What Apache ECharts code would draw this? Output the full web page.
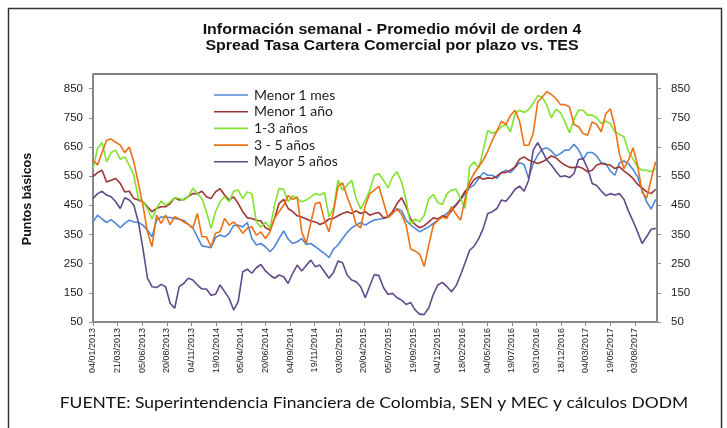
<!DOCTYPE html>
<html>
<head>
<meta charset="utf-8">
<script src="https://cdn.jsdelivr.net/npm/echarts@6/dist/echarts.min.js"></script>
<style>
html, body { margin: 0; padding: 0; background: #fff; }
#chart { width: 727px; height: 428px; }
</style>
</head>
<body>
<div id="chart"></div>
<script>
// fechas: datos cada 14 dias desde 04/01/2013
var startDate = Date.UTC(2013, 0, 4);
var stepDays = 14;

var seriesNames = ['Menor 1 mes', 'Menor 1 año', '1-3 años', '3 - 5 años', 'Mayor 5 años'];
var seriesColors = ['#4f86d6', '#9e3434', '#80e22e', '#ec7014', '#604a8a'];

var menor1mes = [393,416,403,391,401,388,373,388,399,393,391,382,365,342,399,410,410,408,405,402,398,385,
  373,342,311,308,305,339,348,342,354,381,382,376,391,336,314,319,308,291,308,336,362,
  334,319,325,336,316,319,308,296,285,271,300,314,336,357,373,382,391,382,392,400,402,
  405,410,422,439,431,399,382,371,359,368,376,388,399,410,422,439,453,468,490,510,520,
  542,562,553,553,542,562,570,562,579,596,590,542,593,622,642,647,636,619,627,639,640,
  659,640,608,631,631,619,596,593,567,553,596,602,593,573,548,502,462,437,470];

var menor1anio = [548,562,570,530,536,542,525,496,498,473,468,462,445,428,439,445,445,456,476,468,470,480,
  490,490,498,479,473,496,507,485,468,479,456,428,407,405,399,396,373,365,405,456,470,
  439,428,414,410,403,396,393,384,391,403,405,414,422,428,422,431,422,428,416,422,425,
  407,410,428,456,476,445,403,384,373,380,393,407,403,414,411,431,450,473,498,516,538,
  548,539,544,542,550,562,562,570,582,608,616,605,599,593,599,608,619,613,599,588,580,
  579,582,576,565,570,588,593,590,588,576,582,568,556,542,522,510,496,490,505];

var de1a3 = [576,645,665,599,631,639,608,616,588,553,473,462,439,403,439,464,450,462,476,473,468,480,
  508,490,473,428,371,428,462,479,462,498,502,473,496,490,393,375,393,371,450,508,505,
  462,483,473,462,468,479,490,485,494,411,439,536,502,519,536,473,437,468,502,553,558,
  536,510,547,565,530,468,382,403,393,416,473,487,460,453,490,502,505,473,439,582,599,
  578,639,707,696,704,719,727,702,764,776,768,779,799,825,821,793,750,779,768,736,699,
  745,776,776,759,759,750,730,738,730,702,693,685,636,608,582,570,570,565,576];

var de3a5 = [605,588,631,673,677,666,656,631,650,599,525,450,359,308,416,388,416,384,411,403,393,385,
  371,422,342,342,308,354,359,405,382,393,376,354,371,376,348,359,336,359,405,428,450,
  483,470,479,359,319,391,456,460,399,359,428,516,527,479,439,384,373,450,490,502,515,
  462,407,422,437,419,382,300,293,282,240,314,382,399,410,405,445,419,399,473,530,560,
  582,605,636,673,704,738,727,758,776,738,656,656,696,804,821,839,830,816,795,795,787,
  727,719,696,690,736,727,702,764,781,719,627,576,605,647,588,495,475,540,600];

var mayor5 = [473,490,498,485,479,462,439,476,468,450,393,302,200,171,168,179,171,114,97,171,182,200,
  194,177,163,163,142,145,177,154,131,91,120,222,231,217,236,247,225,211,200,211,205,
  182,217,245,225,244,262,239,245,222,200,220,259,253,211,194,188,171,133,174,213,209,
  168,145,148,133,125,110,117,91,76,76,99,145,177,186,171,154,174,211,253,296,310,
  336,371,422,428,439,468,464,483,505,516,498,536,639,665,636,605,588,567,548,551,545,
  559,607,610,576,525,518,499,483,490,485,490,471,430,396,359,319,342,368,371];

var allValues = [menor1mes, menor1anio, de1a3, de3a5, mayor5];

function toPairs(arr) {
  return arr.map(function (v, i) { return [i * stepDays, v]; });
}

function fmtDate(days) {
  var d = new Date(startDate + days * 86400000);
  var dd = ('0' + d.getUTCDate()).slice(-2);
  var mm = ('0' + (d.getUTCMonth() + 1)).slice(-2);
  return dd + '/' + mm + '/' + d.getUTCFullYear();
}

var chart = echarts.init(document.getElementById('chart'));

var axisGray = '#8a8a8a';
var yAxisBase = {
  type: 'value',
  min: 50,
  max: 900,
  interval: 100,
  axisLine: { show: true, lineStyle: { color: axisGray, width: 1.5 } },
  axisTick: { show: true, inside: false, length: 4, lineStyle: { color: axisGray } },
  splitLine: { show: false },
  axisLabel: {
    fontSize: 11.5,
    fontFamily: 'Liberation Sans',
    color: '#222',
    margin: 10,
    showMaxLabel: false
  }
};

var option = {
  animation: false,
  backgroundColor: '#fff',
  grid: {
    left: 93, top: 74, right: 70, bottom: 106,
    show: true, borderColor: '#000', borderWidth: 1
  },
  legend: {
    orient: 'vertical',
    left: 214,
    top: 88,
    padding: 0,
    icon: 'rect',
    itemWidth: 34,
    itemHeight: 1.6,
    itemGap: 2.7,
    data: seriesNames,
    textStyle: { fontFamily: 'Lato', fontSize: 14, lineHeight: 14, color: '#222', padding: [0, 0, 0, 1] }
  },
  xAxis: {
    type: 'value',
    min: 0,
    max: 1740,
    interval: 76,
    axisLine: { show: true, lineStyle: { color: axisGray, width: 1.5 } },
    axisTick: { show: true, inside: false, length: 4, lineStyle: { color: axisGray } },
    splitLine: { show: false },
    axisLabel: {
      rotate: 90,
      fontSize: 9,
      fontFamily: 'Liberation Sans',
      color: '#222',
      margin: 6,
      showMaxLabel: false,
      formatter: function (v) { return fmtDate(v); }
    }
  },
  yAxis: [
    echarts.util.merge({ position: 'left' }, yAxisBase, true),
    echarts.util.merge({ position: 'right', axisLabel: { margin: 14 } }, yAxisBase, false)
  ],
  series: seriesNames.map(function (name, k) {
    return {
      name: name,
      type: 'line',
      yAxisIndex: 0,
      symbol: 'none',
      data: toPairs(allValues[k]),
      lineStyle: { color: seriesColors[k], width: 1.6 },
      itemStyle: { color: seriesColors[k] }
    };
  }),
  graphic: [
    {
      type: 'rect',
      shape: { x: 8.5, y: 8.5, width: 713, height: 440 },
      style: { fill: 'none', stroke: '#333', lineWidth: 1.5 },
      silent: true
    },
    {
      type: 'text',
      x: 392, y: 30,
      scaleX: 1.14,
      style: {
        text: 'Información semanal - Promedio móvil de orden 4',
        font: 'bold 14px "Liberation Sans"',
        fill: '#111',
        align: 'center',
        verticalAlign: 'middle'
      }
    },
    {
      type: 'text',
      x: 392, y: 46,
      scaleX: 1.14,
      style: {
        text: 'Spread Tasa Cartera Comercial por plazo vs. TES',
        font: 'bold 14px "Liberation Sans"',
        fill: '#111',
        align: 'center',
        verticalAlign: 'middle'
      }
    },
    {
      type: 'text',
      x: 28, y: 199,
      rotation: Math.PI / 2,
      style: {
        text: 'Puntos básicos',
        font: 'bold 12.5px "Liberation Sans"',
        fill: '#111',
        align: 'center',
        verticalAlign: 'middle'
      }
    },
    {
      type: 'text',
      x: 374, y: 403,
      scaleX: 1.09,
      style: {
        text: 'FUENTE: Superintendencia Financiera de Colombia, SEN y MEC y cálculos DODM',
        font: '16px Lato',
        fill: '#111',
        align: 'center',
        verticalAlign: 'middle'
      }
    }
  ]
};

chart.setOption(option);
</script>
</body>
</html>
